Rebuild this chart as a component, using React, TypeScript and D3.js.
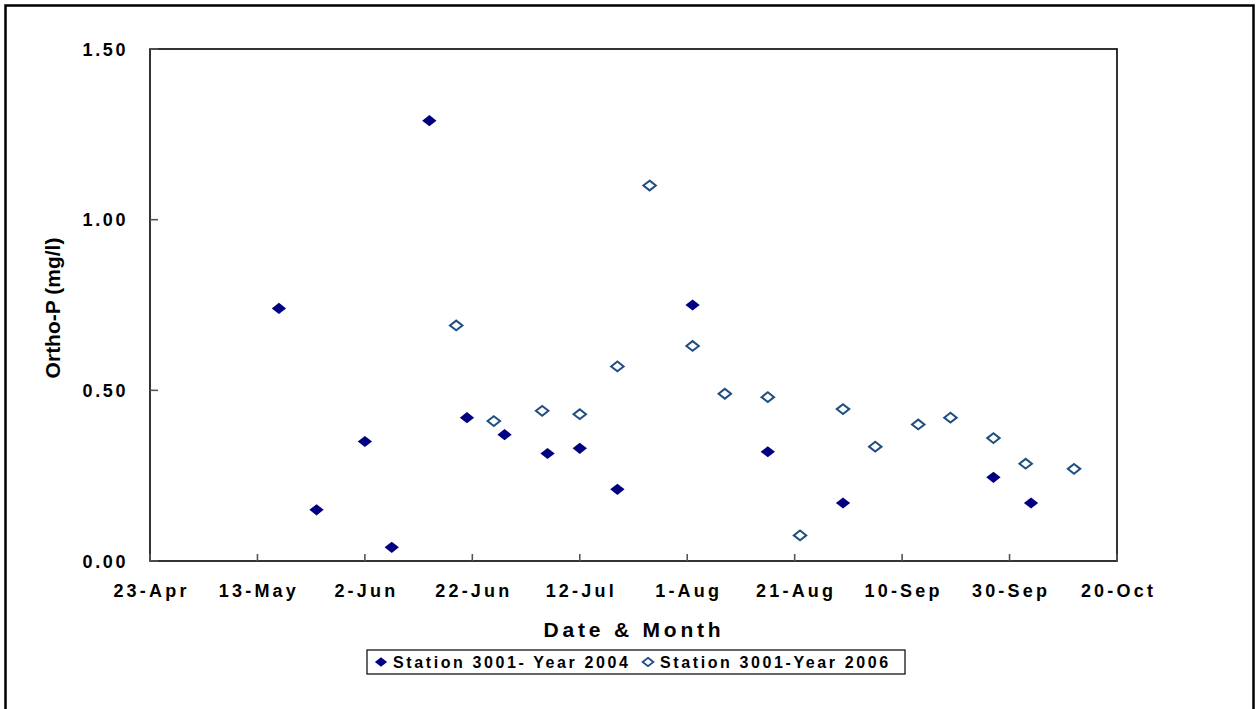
import React from "react";
import * as d3 from "d3";

const xTickLabels = ["23-Apr", "13-May", "2-Jun", "22-Jun", "12-Jul", "1-Aug", "21-Aug", "10-Sep", "30-Sep", "20-Oct"];
const yTickValues = [0, 0.5, 1.0, 1.5];

const dates2004 = ["17-May", "24-May", "2-Jun", "7-Jun", "14-Jun", "21-Jun", "28-Jun", "6-Jul", "12-Jul", "19-Jul", "2-Aug", "16-Aug", "30-Aug", "27-Sep", "4-Oct"];
const values2004 = [0.74, 0.15, 0.35, 0.04, 1.29, 0.42, 0.37, 0.315, 0.33, 0.21, 0.75, 0.32, 0.17, 0.245, 0.17];

const dates2006 = ["19-Jun", "26-Jun", "5-Jul", "12-Jul", "19-Jul", "25-Jul", "2-Aug", "8-Aug", "16-Aug", "22-Aug", "30-Aug", "5-Sep", "13-Sep", "19-Sep", "27-Sep", "3-Oct", "12-Oct"];
const values2006 = [0.69, 0.41, 0.44, 0.43, 0.57, 1.1, 0.63, 0.49, 0.48, 0.075, 0.445, 0.335, 0.4, 0.42, 0.36, 0.285, 0.27];

const seriesNames = ["Station 3001- Year 2004", "Station 3001-Year 2006"];

const W = 1257;
const H = 709;
const plot = { left: 150, top: 49, right: 1117, bottom: 561 };
const FONT = "'Liberation Sans', Arial, Helvetica, sans-serif";
const FILL_COLOR = "#000080";
const OPEN_COLOR = "#1F4E82";

const parse = d3.timeParse("%d-%b");

// rhombus slightly wider than tall
const rhombus = {
  draw(ctx: any, size: number) {
    const w = Math.sqrt(size) / 2;
    const h = w * 0.78;
    ctx.moveTo(0, -h);
    ctx.lineTo(w, 0);
    ctx.lineTo(0, h);
    ctx.lineTo(-w, 0);
    ctx.closePath();
  },
};

export default function App() {
  const tickDates = xTickLabels.map((s) => parse(s) as Date);
  const x = d3
    .scaleTime()
    .domain([tickDates[0], tickDates[tickDates.length - 1]])
    .range([plot.left, plot.right]);
  const y = d3.scaleLinear().domain([0, 1.5]).range([plot.bottom, plot.top]);

  const filledPath = d3.symbol().type(rhombus as any).size(205)() as string;
  const openPath = d3.symbol().type(rhombus as any).size(156)() as string;
  const legendFilled = d3.symbol().type(rhombus as any).size(150)() as string;
  const legendOpen = d3.symbol().type(rhombus as any).size(115)() as string;

  const s2004 = dates2004.map((d, i) => ({ date: parse(d) as Date, v: values2004[i] }));
  const s2006 = dates2006.map((d, i) => ({ date: parse(d) as Date, v: values2006[i] }));
  const fmt = d3.format(".2f");

  return (
    <svg
      width={W}
      height={H}
      style={{ position: "absolute", left: 0, top: 0, background: "#fff" }}
      fontFamily={FONT}
    >
      <rect x={0} y={0} width={W} height={H} fill="#fff" />
      {/* outer border */}
      <rect x={5.5} y={5.5} width={1248} height={720} fill="none" stroke="#000" strokeWidth={2.5} />

      {/* plot frame */}
      <rect
        x={plot.left}
        y={plot.top}
        width={plot.right - plot.left}
        height={plot.bottom - plot.top}
        fill="none"
        stroke="#000"
        strokeWidth={1.6}
      />

      {/* y ticks & labels */}
      {yTickValues.map((v) => (
        <g key={"y" + v}>
          <line x1={plot.left} x2={plot.left + 8} y1={y(v)} y2={y(v)} stroke="#555" strokeWidth={1.6} />
          <text
            x={plot.left - 22}
            y={y(v)}
            dy="0.37em"
            textAnchor="end"
            fontSize={18}
            fontWeight="bold"
            letterSpacing={2.6}
            fill="#000"
          >
            {fmt(v)}
          </text>
        </g>
      ))}

      {/* x ticks & labels */}
      {tickDates.map((d, i) => (
        <g key={"x" + i}>
          <line x1={x(d)} x2={x(d)} y1={plot.bottom} y2={plot.bottom - 7} stroke="#555" strokeWidth={1.6} />
          <text
            x={x(d) + 1.5}
            y={597}
            textAnchor="middle"
            fontSize={18}
            fontWeight="bold"
            letterSpacing={3.2}
            fill="#000"
          >
            {xTickLabels[i]}
          </text>
        </g>
      ))}

      {/* axis titles */}
      <text x={634} y={637} textAnchor="middle" fontSize={21} fontWeight="bold" letterSpacing={3.8} fill="#000">
        Date &amp; Month
      </text>
      <text
        transform={`translate(60,308) rotate(-90)`}
        textAnchor="middle"
        fontSize={21}
        fontWeight="bold"
        fill="#000"
      >
        Ortho-P (mg/l)
      </text>

      {/* series 2004 */}
      {s2004.map((p, i) => (
        <path key={"a" + i} d={filledPath} transform={`translate(${x(p.date)},${y(p.v)})`} fill={FILL_COLOR} />
      ))}
      {/* series 2006 */}
      {s2006.map((p, i) => (
        <path
          key={"b" + i}
          d={openPath}
          transform={`translate(${x(p.date)},${y(p.v)})`}
          fill="#fff"
          stroke={OPEN_COLOR}
          strokeWidth={2}
        />
      ))}

      {/* legend */}
      <g>
        <rect x={367} y={650} width={538} height={24} fill="#fff" stroke="#000" strokeWidth={1.2} />
        <path d={legendFilled} transform="translate(381,662)" fill={FILL_COLOR} />
        <text x={393} y={668} fontSize={16} fontWeight="bold" letterSpacing={2.6} fill="#000">
          {seriesNames[0]}
        </text>
        <path d={legendOpen} transform="translate(648,662)" fill="#fff" stroke={OPEN_COLOR} strokeWidth={1.8} />
        <text x={660} y={668} fontSize={16} fontWeight="bold" letterSpacing={2.6} fill="#000">
          {seriesNames[1]}
        </text>
      </g>
    </svg>
  );
}
